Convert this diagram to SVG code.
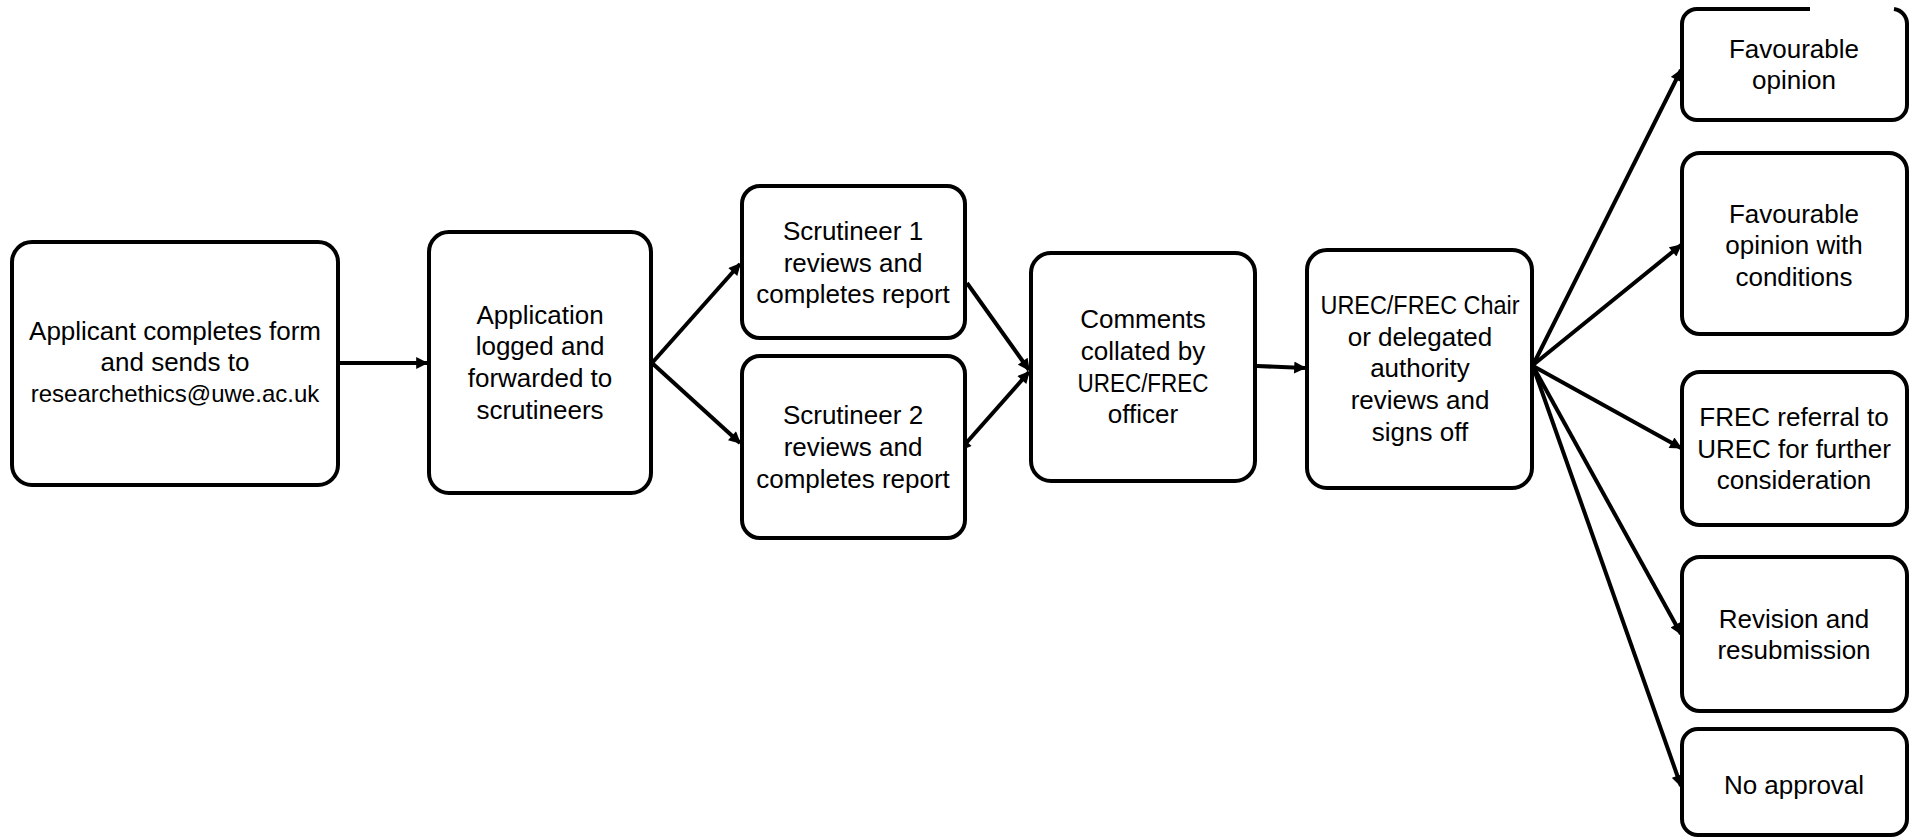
<svg xmlns="http://www.w3.org/2000/svg" width="1914" height="837" viewBox="0 0 1914 837">
<style>
.box{fill:#fff;stroke:#000;stroke-width:4}
.t{font-family:"Liberation Sans",Arial,sans-serif;font-size:26px;fill:#000;text-anchor:middle}
.s{font-size:24px}
.c{stroke:#000;stroke-width:4;fill:none}
</style>
<defs>
<marker id="ah" viewBox="0 0 10 10" refX="9" refY="5" markerUnits="userSpaceOnUse" markerWidth="14" markerHeight="12" orient="auto-start-reverse">
<path d="M0,0 L10,5 L0,10 Z" fill="#000"/>
</marker>
</defs>
<rect width="1914" height="837" fill="#fff"/>
<g id="connectors">
<line class="c" x1="340" y1="363" x2="427" y2="363" marker-end="url(#ah)"/>
<line class="c" x1="652" y1="363" x2="740" y2="264" marker-end="url(#ah)"/>
<line class="c" x1="652" y1="363" x2="740" y2="443" marker-end="url(#ah)"/>
<line class="c" x1="967" y1="283" x2="1029" y2="370" marker-end="url(#ah)"/>
<line class="c" x1="960" y1="450" x2="1029" y2="372" marker-start="url(#ah)" marker-end="url(#ah)"/>
<line class="c" x1="1257" y1="366" x2="1305" y2="368" marker-end="url(#ah)"/>
<line class="c" x1="1533" y1="365" x2="1681" y2="70" marker-end="url(#ah)"/>
<line class="c" x1="1533" y1="365" x2="1681" y2="245" marker-end="url(#ah)"/>
<line class="c" x1="1533" y1="366" x2="1681" y2="448" marker-end="url(#ah)"/>
<line class="c" x1="1534" y1="368" x2="1681" y2="634" marker-end="url(#ah)"/>
<line class="c" x1="1535" y1="372" x2="1681" y2="786" marker-end="url(#ah)"/>
</g>
<g id="n1"><rect class="box" x="12" y="242" width="326" height="243" rx="20"/>
<text class="t" x="175" y="340">Applicant completes form</text>
<text class="t" x="175" y="371">and sends to</text>
<text class="t s" x="175" y="402">researchethics@uwe.ac.uk</text></g>
<g id="n2"><rect class="box" x="429" y="232" width="222" height="261" rx="20"/>
<text class="t" x="540" y="324">Application</text>
<text class="t" x="540" y="355">logged and</text>
<text class="t" x="540" y="387">forwarded to</text>
<text class="t" x="540" y="419">scrutineers</text></g>
<g id="n3"><rect class="box" x="742" y="186" width="223" height="152" rx="18"/>
<text class="t" x="853" y="240">Scrutineer 1</text>
<text class="t" x="853" y="272">reviews and</text>
<text class="t" x="853" y="303">completes report</text></g>
<g id="n4"><rect class="box" x="742" y="356" width="223" height="182" rx="18"/>
<text class="t" x="853" y="424">Scrutineer 2</text>
<text class="t" x="853" y="456">reviews and</text>
<text class="t" x="853" y="488">completes report</text></g>
<g id="n5"><rect class="box" x="1031" y="253" width="224" height="228" rx="20"/>
<text class="t" x="1143" y="328">Comments</text>
<text class="t" x="1143" y="360">collated by</text>
<text class="t" x="1143" y="392" textLength="131" lengthAdjust="spacingAndGlyphs">UREC/FREC</text>
<text class="t" x="1143" y="423">officer</text></g>
<g id="n6"><rect class="box" x="1307" y="250" width="225" height="238" rx="20"/>
<text class="t" x="1420" y="314" textLength="199" lengthAdjust="spacingAndGlyphs">UREC/FREC Chair</text>
<text class="t" x="1420" y="346">or delegated</text>
<text class="t" x="1420" y="377">authority</text>
<text class="t" x="1420" y="409">reviews and</text>
<text class="t" x="1420" y="441">signs off</text></g>
<g id="n7"><path class="box" d="M1810,9 L1697,9 A15,15 0 0 0 1682,24 L1682,105 A15,15 0 0 0 1697,120 L1892,120 A15,15 0 0 0 1907,105 L1907,24 A15,15 0 0 0 1894,9"/>
<text class="t" x="1794" y="58">Favourable</text>
<text class="t" x="1794" y="89">opinion</text></g>
<g id="n8"><rect class="box" x="1682" y="153" width="225" height="181" rx="18"/>
<text class="t" x="1794" y="223">Favourable</text>
<text class="t" x="1794" y="254">opinion with</text>
<text class="t" x="1794" y="286">conditions</text></g>
<g id="n9"><rect class="box" x="1682" y="372" width="225" height="153" rx="18"/>
<text class="t" x="1794" y="426">FREC referral to</text>
<text class="t" x="1794" y="458">UREC for further</text>
<text class="t" x="1794" y="489">consideration</text></g>
<g id="n10"><rect class="box" x="1682" y="557" width="225" height="154" rx="18"/>
<text class="t" x="1794" y="628">Revision and</text>
<text class="t" x="1794" y="659">resubmission</text></g>
<g id="n11"><rect class="box" x="1682" y="729" width="225" height="106" rx="16"/>
<text class="t" x="1794" y="794">No approval</text></g>
</svg>
